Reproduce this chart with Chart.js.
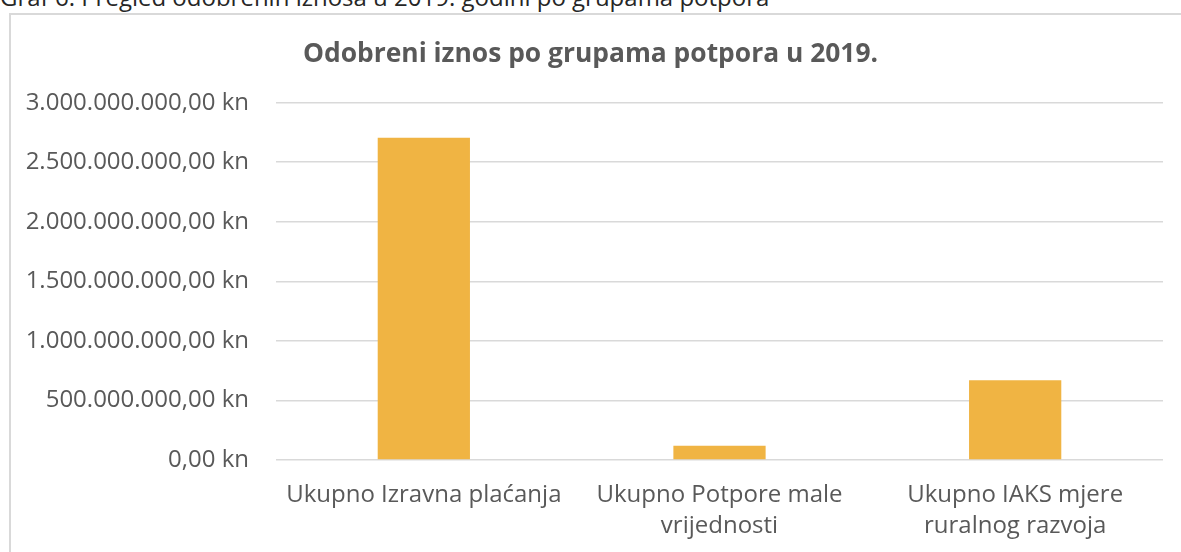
<!DOCTYPE html>
<html>
<head>
<meta charset="utf-8">
<script src="https://cdn.jsdelivr.net/npm/chart.js@4"></script>
<style>
html,body{margin:0;padding:0;background:#fff;overflow:hidden}
#caption{position:absolute;left:0;top:-15px;font-family:"Open Sans";font-size:24px;line-height:24px;color:#262626;white-space:nowrap}
#okvir{position:absolute;left:9px;top:13px;width:1300px;height:700px;border-left:2px solid #d9d9d9;border-top:2px solid #d9d9d9}
#wrap{position:absolute;left:0;top:0;width:1181px;height:552px}
</style>
</head>
<body>
<div id="caption">Graf 6. Pregled odobrenih iznosa u 2019. godini po grupama potpora</div>
<div id="okvir"></div>
<div id="wrap"><canvas id="grafIznos"></canvas></div>
<script>
let kategorije = [
["Ukupno Izravna plaćanja"],
["Ukupno Potpore male","vrijednosti"],
["Ukupno IAKS mjere","ruralnog razvoja"]
]

let iznosi = [2705000000, 120000000, 670000000]

let yMin = 0
let yMax = 3000000000
let yKorak = 500000000

let naslov = "Odobreni iznos po grupama potpora u 2019."

function formatKn(v){
let s = String(Math.round(v)).replace(/\B(?=(\d{3})+(?!\d))/g, ".")
return s + ",00 kn"
}

let siva = "#595959"

new Chart(document.getElementById("grafIznos"),{
type:"bar",
data:{
labels:kategorije,
datasets:[{
label:"Odobreni iznos",
data:iznosi,
backgroundColor:"#F0B443",
categoryPercentage:1,
barPercentage:0.312
}]
},
options:{
responsive:true,
maintainAspectRatio:false,
animation:false,
layout:{padding:0},
plugins:{
legend:{display:false},
tooltip:{enabled:false},
title:{
display:true,
text:naslov,
color:siva,
font:{family:"Open Sans",size:26.4,weight:"bold"},
padding:{top:39,bottom:32}
}
},
scales:{
x:{
grid:{display:false,drawTicks:false},
border:{display:false},
ticks:{
color:siva,
font:{family:"Open Sans",size:24,lineHeight:1.32},
padding:19,
maxRotation:0,
autoSkip:false
},
afterFit:function(s){ s.height = 92 }
},
y:{
min:yMin,
max:yMax,
grid:{color:"#d9d9d9",lineWidth:1.5,drawTicks:false},
border:{display:false},
ticks:{
stepSize:yKorak,
color:siva,
font:{family:"Open Sans",size:24},
padding:27,
callback:function(v){ return formatKn(v) }
},
afterFit:function(s){ s.width = 276 }
},
desno:{
position:"right",
grid:{display:false,drawTicks:false},
border:{display:false},
ticks:{display:false},
afterFit:function(s){ s.width = 18 }
}
}
}
})
</script>
</body>
</html>
